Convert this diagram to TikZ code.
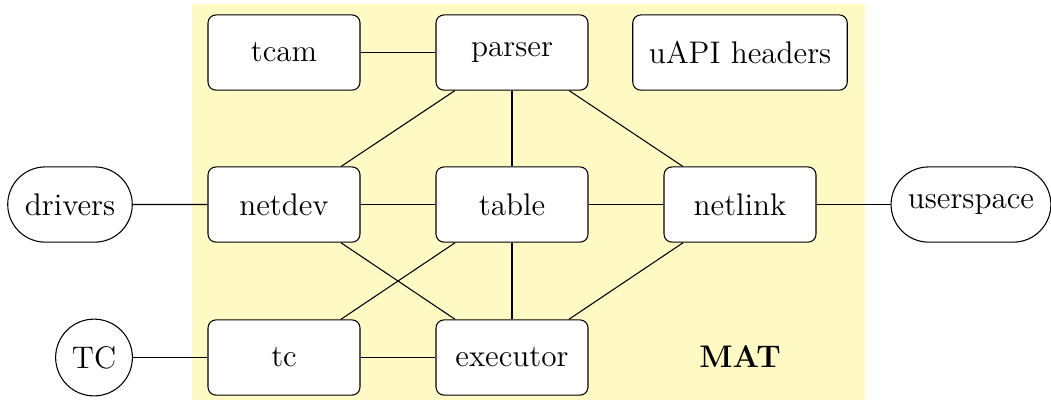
\documentclass[tikz,border=0pt]{standalone}
\usepackage{tikz}
\usetikzlibrary{shapes.misc}
\definecolor{matbg}{RGB}{255,249,196}

\begin{document}
\begin{tikzpicture}[%
font=\fontsize{11.7pt}{14pt}\selectfont,
block/.style={draw, rounded corners=3pt, fill=white, minimum width=2cm, minimum height=0.99cm, inner xsep=6pt},
outside/.style={draw, rounded rectangle, fill=white, minimum height=0.99cm, inner xsep=5.8pt},
]
\useasboundingbox (0,0) rectangle (13.829,5.355);
%% MAT area;
\fill [matbg] (2.526,0.092) rectangle (11.382,5.303);
%% blocks;
\node [block] (tcam) at (3.737,4.664) {tcam};
\node [block] (parser) at (6.737,4.664) {parser};
\node [block] (uapi) at (9.737,4.664) {uAPI headers};
\node [block] (netdev) at (3.737,2.664) {netdev};
\node [block] (table) at (6.737,2.664) {table};
\node [block] (netlink) at (9.737,2.664) {netlink};
\node [block] (tc) at (3.737,0.651) {tc};
\node [block] (executor) at (6.737,0.651) {executor};
%% outside;
\node [outside] (drivers) at (0.921,2.664) {drivers};
\node [outside] (userspace) at (12.776,2.664) {userspace};
\node [draw, circle, fill=white, minimum size=1.01cm, inner sep=1pt] (TC) at (1.237,0.651) {TC};
%% label;
\node (mat) at (9.737,0.658) {\textbf{MAT}};
%% links;
\draw (tcam) -- (parser);
\draw (parser) -- (netdev);
\draw (parser) -- (table);
\draw (parser) -- (netlink);
\draw (drivers) -- (netdev);
\draw (netdev) -- (table);
\draw (table) -- (netlink);
\draw (netlink) -- (userspace);
\draw (netdev) -- (executor);
\draw (table) -- (tc);
\draw (table) -- (executor);
\draw (netlink) -- (executor);
\draw (TC) -- (tc);
\draw (tc) -- (executor);
\end{tikzpicture}
\end{document}
